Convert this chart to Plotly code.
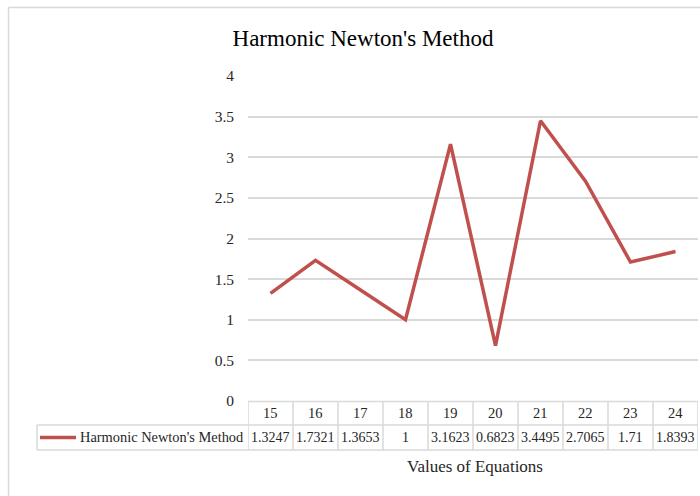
import plotly.graph_objects as go

# Chart data
categories = [15, 16, 17, 18, 19, 20, 21, 22, 23, 24]
values = [1.3247, 1.7321, 1.3653, 1, 3.1623, 0.6823, 3.4495, 2.7065, 1.71, 1.8393]
value_labels = ["1.3247", "1.7321", "1.3653", "1", "3.1623", "0.6823", "3.4495", "2.7065", "1.71", "1.8393"]
y_ticks = [0, 0.5, 1, 1.5, 2, 2.5, 3, 3.5, 4]
series_name = "Harmonic Newton's Method"
chart_title = "Harmonic Newton's Method"
x_title = "Values of Equations"

W, H = 700, 496
M_L, M_R, M_T, M_B = 248, 2, 76, 95
PLOT_H = H - M_T - M_B
PLOT_W = W - M_L - M_R

FONT = "Liberation Serif, Times New Roman, serif"
GRID = "#d9d9d9"
LINE = "#c0504d"
TXT = "#262626"


def py(p):
    """Pixel row -> paper y."""
    return (H - M_B - p) / PLOT_H


def px(p):
    """Pixel column -> paper x."""
    return (p - M_L) / PLOT_W


idx = list(range(len(categories)))

fig = go.Figure()
fig.add_trace(go.Scatter(
    x=idx, y=values, mode="lines", name=series_name,
    line=dict(color=LINE, width=3.5), showlegend=False, hoverinfo="y",
))

shapes = []
annotations = []

# Table grid: header row and value row
hdr_top, hdr_bot, row_bot = py(401.5), py(425), py(450)
shapes.append(dict(type="line", xref="x", yref="paper", x0=-0.5, x1=len(idx) - 0.5,
                   y0=hdr_top, y1=hdr_top, line=dict(color=GRID, width=1.5)))
shapes.append(dict(type="line", xref="paper", yref="paper", x0=px(37), x1=1.0,
                   y0=hdr_bot, y1=hdr_bot, line=dict(color=GRID, width=1.5)))
shapes.append(dict(type="line", xref="paper", yref="paper", x0=px(37), x1=1.0,
                   y0=row_bot, y1=row_bot, line=dict(color=GRID, width=1.5)))
shapes.append(dict(type="line", xref="paper", yref="paper", x0=px(37), x1=px(37),
                   y0=hdr_bot, y1=row_bot, line=dict(color=GRID, width=1.5)))
for i in range(len(idx) + 1):
    shapes.append(dict(type="line", xref="x", yref="paper", x0=i - 0.5, x1=i - 0.5,
                       y0=hdr_top, y1=row_bot, line=dict(color=GRID, width=1.5)))

# Legend key inside the table
shapes.append(dict(type="line", xref="paper", yref="paper", x0=px(40), x1=px(76),
                   y0=py(437.5), y1=py(437.5), line=dict(color=LINE, width=3.5)))

for i, (c, v) in enumerate(zip(categories, value_labels)):
    annotations.append(dict(x=i, y=(hdr_top + hdr_bot) / 2, xref="x", yref="paper",
                            text=str(c), showarrow=False, yanchor="middle",
                            font=dict(family=FONT, size=14.5, color=TXT)))
    annotations.append(dict(x=i, y=(hdr_bot + row_bot) / 2, xref="x", yref="paper",
                            text=v, showarrow=False, yanchor="middle",
                            font=dict(family=FONT, size=14, color=TXT)))

annotations.append(dict(x=px(246), y=(hdr_bot + row_bot) / 2, xref="paper", yref="paper",
                        text=series_name, showarrow=False, xanchor="right", yanchor="middle",
                        font=dict(family=FONT, size=14.4, color=TXT)))
annotations.append(dict(x=px(474.5), y=py(466), xref="paper", yref="paper",
                        text=x_title, showarrow=False, xanchor="center", yanchor="middle",
                        font=dict(family=FONT, size=17, color=TXT)))

# Chart-area border (left and top edges)
shapes.append(dict(type="line", xref="paper", yref="paper", x0=px(8.5), x1=px(8.5),
                   y0=py(7.5), y1=py(H + 5), line=dict(color=GRID, width=1.5)))
shapes.append(dict(type="line", xref="paper", yref="paper", x0=px(8.5), x1=px(W + 5),
                   y0=py(7.5), y1=py(7.5), line=dict(color=GRID, width=1.5)))

fig.update_layout(
    width=W, height=H,
    margin=dict(l=M_L, r=M_R, t=M_T, b=M_B),
    paper_bgcolor="white", plot_bgcolor="white",
    title=dict(text=chart_title, xref="container", x=363 / W, xanchor="center",
               yref="container", y=1 - 38 / H, yanchor="middle",
               font=dict(family=FONT, size=23, color="#000000")),
    xaxis=dict(range=[-0.5, len(idx) - 0.5], showticklabels=False, showgrid=False,
               zeroline=False, showline=False, ticks=""),
    yaxis=dict(range=[0, 4], tickvals=y_ticks, ticktext=[f"{t:g}" for t in y_ticks],
               showgrid=True, gridcolor=GRID, gridwidth=1.5, zeroline=False,
               showline=False, ticks="", ticklabelstandoff=13,
               tickfont=dict(family=FONT, size=15.5, color=TXT)),
    shapes=shapes, annotations=annotations,
)

fig.write_html("out.html")
